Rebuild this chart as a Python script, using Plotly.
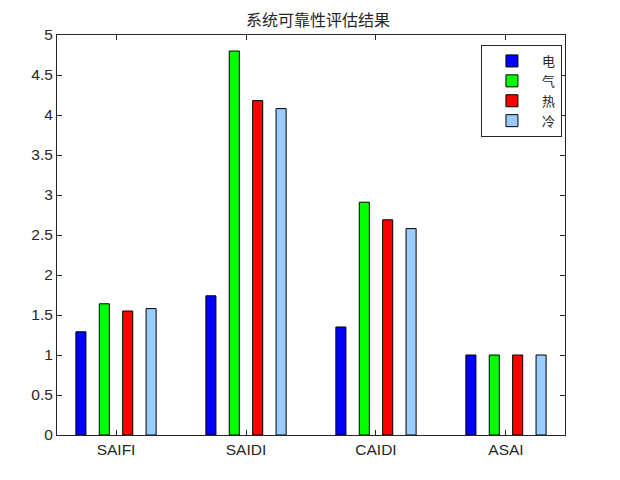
import plotly.graph_objects as go

categories = ["SAIFI", "SAIDI", "CAIDI", "ASAI"]
series_names = ["电", "气", "热", "冷"]
elec = [1.29, 1.74, 1.35, 1.00]
gas = [1.64, 4.80, 2.91, 1.00]
heat = [1.55, 4.18, 2.69, 1.00]
cold = [1.58, 4.08, 2.58, 1.00]
yticks = [0, 0.5, 1, 1.5, 2, 2.5, 3, 3.5, 4, 4.5, 5]
colors = ["#0000FF", "#00FF00", "#FF0000", "#99CCFF"]

x = list(range(1, len(categories) + 1))
fig = go.Figure()
for name, vals, c in zip(series_names, [elec, gas, heat, cold], colors):
    fig.add_trace(go.Bar(x=x, y=vals, name=name, marker=dict(color=c, line=dict(color="black", width=1))))

axis_font = dict(family="Liberation Sans, Arial, sans-serif", size=15.5, color="#262626")
fig.update_layout(
    width=620, height=480,
    margin=dict(l=49, r=63, t=27, b=53),
    paper_bgcolor="white", plot_bgcolor="white",
    barmode="group", bargap=0.28, bargroupgap=0.57,
    title=dict(text="系统可靠性评估结果", x=0.5, xanchor="center", y=0.975, yanchor="middle",
               font=dict(family="Noto Sans CJK SC", size=16, color="#262626")),
    legend=dict(x=0.994, y=0.975, xanchor="right", yanchor="top",
                bordercolor="#262626", borderwidth=1, bgcolor="white",
                font=dict(family="Noto Sans CJK SC", size=13, color="#262626"),
                tracegroupgap=0, itemwidth=50),
    showlegend=True,
)
fig.update_xaxes(range=[0.546, 4.454], tickmode="array", tickvals=x, ticktext=categories,
                 showline=True, mirror="ticks", linecolor="#262626", linewidth=1,
                 ticks="inside", ticklen=5, tickcolor="#262626", showgrid=False, zeroline=False,
                 tickfont=axis_font)
fig.update_yaxes(range=[0, 5], tickmode="array", tickvals=yticks, ticktext=[f"{v:g}" for v in yticks],
                 showline=True, mirror="ticks", linecolor="#262626", linewidth=1,
                 ticks="inside", ticklen=5, tickcolor="#262626", showgrid=False, zeroline=False,
                 tickfont=axis_font)
fig.write_html("out.html")
